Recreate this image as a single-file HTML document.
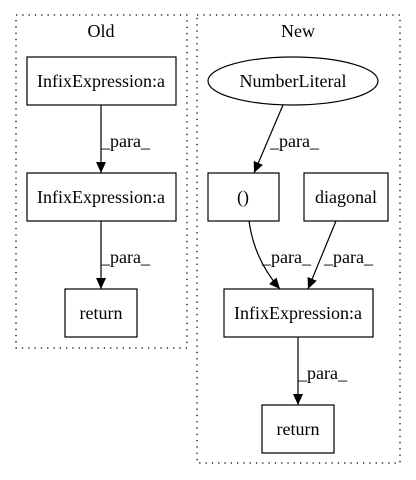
<!DOCTYPE html>
<html><head><meta charset="utf-8"><style>
html,body{margin:0;padding:0;background:#fff;}
svg{display:block;}
text{font-family:"Liberation Serif",serif;font-size:18px;fill:#000;}
</style></head><body>
<svg width="416" height="480" viewBox="0 0 416 480" xmlns="http://www.w3.org/2000/svg">
<defs><marker id="a" markerWidth="12" markerHeight="12" refX="11" refY="5.5" orient="auto" markerUnits="userSpaceOnUse"><path d="M0,0.5 L11,5.5 L0,10.5 Z" fill="#000"/></marker></defs>
<g fill="none" stroke="#000" stroke-dasharray="1.3,5" stroke-width="1.3">
<rect x="16" y="15" width="171" height="333"/>
<rect x="197" y="15" width="203" height="448"/>
</g>
<text x="101" y="37" text-anchor="middle">Old</text>
<text x="298" y="37" text-anchor="middle">New</text>
<g fill="none" stroke="#000" stroke-width="1.2">
<rect x="27" y="57" width="149" height="48"/>
<rect x="27" y="173" width="149" height="48"/>
<rect x="65" y="289" width="72" height="48"/>
<ellipse cx="293" cy="81" rx="85" ry="24"/>
<rect x="208" y="173" width="71" height="48"/>
<rect x="304" y="173" width="84" height="48"/>
<rect x="224" y="289" width="149" height="48"/>
<rect x="262" y="405" width="72" height="48"/>
<path d="M101,105 L101,173" marker-end="url(#a)"/>
<path d="M101,221 L101,289" marker-end="url(#a)"/>
<path d="M283,105 L254,173" marker-end="url(#a)"/>
<path d="M249,221 C253,250 265,272 280,289" marker-end="url(#a)"/>
<path d="M336,221 L308,289" marker-end="url(#a)"/>
<path d="M298,337 L298,405" marker-end="url(#a)"/>
</g>
<text x="101" y="87" text-anchor="middle">InfixExpression:a</text>
<text x="101" y="203" text-anchor="middle">InfixExpression:a</text>
<text x="101" y="319" text-anchor="middle">return</text>
<text x="293" y="87" text-anchor="middle">NumberLiteral</text>
<text x="243" y="203" text-anchor="middle">()</text>
<text x="346" y="203" text-anchor="middle">diagonal</text>
<text x="298" y="319" text-anchor="middle">InfixExpression:a</text>
<text x="298" y="435" text-anchor="middle">return</text>
<text x="101" y="147">_para_</text>
<text x="101" y="263">_para_</text>
<text x="270" y="147">_para_</text>
<text x="262" y="263">_para_</text>
<text x="324" y="263">_para_</text>
<text x="298" y="379">_para_</text>
</svg>
</body></html>
